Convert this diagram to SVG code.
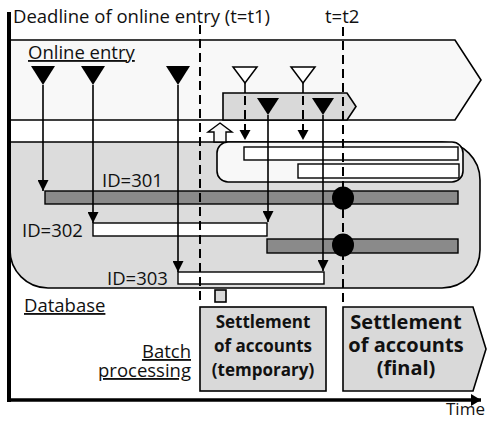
<svg xmlns="http://www.w3.org/2000/svg" width="489" height="421" viewBox="0 0 489 421">
  <defs>
    <marker id="head" viewBox="0 0 10 10" refX="10" refY="5" markerWidth="11" markerHeight="11" markerUnits="userSpaceOnUse" orient="auto">
      <path d="M0,0 L10,5 L0,10 Z" fill="#000"/>
    </marker>
    <marker id="timeHead" viewBox="0 0 10 12" refX="10" refY="6" markerWidth="10" markerHeight="12" markerUnits="userSpaceOnUse" orient="auto">
      <path d="M0,0 L10,6 L0,12 Z" fill="#000"/>
    </marker>
  </defs>
  <style>
    text { font-family: "Open Sans", "Noto Sans", "Liberation Sans", sans-serif; fill: #111; }
    .lbl { font-size: 18.5px; }
    .u { text-decoration: underline; }
    .bold { font-weight: bold; text-anchor: middle; }
    .edge { stroke: #000; stroke-width: 1.6; fill: none; }
    .dash { stroke: #000; stroke-width: 2; stroke-dasharray: 9 5; fill: none; }
    .box { stroke: #000; stroke-width: 1.6; }
    .dark { fill: #8a8a8a; stroke: #000; stroke-width: 1.4; }
    .light { fill: #fff; stroke: #000; stroke-width: 1.4; }
    .tri { fill: #000; }
    .otri { fill: #fff; stroke: #000; stroke-width: 1.5; }
  </style>

  <rect width="489" height="421" fill="#fff"/>

  <!-- online entry lane -->
  <g id="online-entry">
    <path class="box" d="M10,40 H455 L481,80 L455,120 H10" fill="#f8f8f8"/>
    <text class="lbl u" x="28" y="59">Online entry</text>
  </g>

  <!-- entries arriving after the deadline -->
  <g id="late-entry">
    <path class="box" d="M223,93 H347 L356,106.5 L347,120 H223 Z" fill="#d9d9d9"/>
  </g>

  <!-- database -->
  <g id="database">
    <path class="box" d="M10,142 H442 A38,38 0 0 1 480,180 V250 A38,38 0 0 1 442,288 H48 A38,38 0 0 1 10,250 Z" fill="#dcdcdc"/>
    <text class="lbl u" x="24" y="312">Database</text>
  </g>

  <!-- pending (not yet committed) records -->
  <g id="pending">
    <rect class="box" x="217" y="142" width="246" height="40" rx="11" fill="#f8f8f8"/>
    <rect class="light" x="244" y="147" width="214" height="13"/>
    <rect class="light" x="298" y="164" width="161" height="14"/>
  </g>

  <!-- committed records -->
  <g id="id301">
    <rect class="dark" x="45" y="191" width="413" height="13"/>
    <text class="lbl" x="102" y="187">ID=301</text>
  </g>
  <g id="id302">
    <rect class="light" x="93" y="223" width="174" height="13"/>
    <text class="lbl" x="22" y="237">ID=302</text>
  </g>
  <g id="id303">
    <rect class="light" x="178" y="272" width="146" height="12"/>
    <text class="lbl" x="107" y="285">ID=303</text>
  </g>
  <g id="id302-update">
    <rect class="dark" x="267" y="239" width="191" height="14"/>
  </g>

  <!-- batch processing -->
  <g id="batch">
    <rect class="box" x="215" y="290" width="11" height="12" fill="#d9d9d9" stroke-width="1.2"/>
    <text class="lbl u" x="191" y="358" text-anchor="end">Batch</text>
    <text class="lbl u" x="191" y="377" text-anchor="end">processing</text>
  </g>
  <g id="settlement-temporary">
    <rect class="box" x="200" y="307" width="126" height="84" fill="#d9d9d9"/>
    <text class="bold" x="263" y="328" font-size="17">Settlement</text>
    <text class="bold" x="263" y="352" font-size="17">of accounts</text>
    <text class="bold" x="263" y="376" font-size="17">(temporary)</text>
  </g>
  <g id="settlement-final">
    <path class="box" d="M343,307 H473 L486,349 L473,391 H343 Z" fill="#d9d9d9"/>
    <text class="bold" x="406" y="329" font-size="20">Settlement</text>
    <text class="bold" x="406" y="352" font-size="20">of accounts</text>
    <text class="bold" x="406" y="375" font-size="20">(final)</text>
  </g>

  <!-- connectors -->
  <g id="connectors">
    <!-- entry markers -->
    <path class="tri" d="M31,66 H55 L43,85 Z"/>
    <path class="tri" d="M81,66 H105 L93,85 Z"/>
    <path class="tri" d="M166,66 H190 L178,85 Z"/>
    <path class="tri" d="M257,98 H279 L268,115 Z"/>
    <path class="tri" d="M312,98 H334 L323,115 Z"/>
    <path class="otri" d="M233,67 H257 L245,83 Z"/>
    <path class="otri" d="M291,67 H315 L303,83 Z"/>

    <!-- writes into the database -->
    <line class="edge" x1="43" y1="85" x2="43" y2="191" marker-end="url(#head)"/>
    <line class="edge" x1="93" y1="85" x2="93" y2="223" marker-end="url(#head)"/>
    <line class="edge" x1="178" y1="85" x2="178" y2="272" marker-end="url(#head)"/>
    <line class="edge" x1="268" y1="115" x2="268" y2="222" marker-end="url(#head)"/>
    <line class="edge" x1="323" y1="115" x2="323" y2="271" marker-end="url(#head)"/>

    <!-- pending writes -->
    <line class="edge" x1="245" y1="83" x2="245" y2="93"/>
    <line class="edge" x1="303" y1="83" x2="303" y2="93"/>
    <line class="dash" x1="245" y1="96" x2="245" y2="130" stroke-dasharray="7 5"/>
    <line class="dash" x1="303" y1="96" x2="303" y2="130" stroke-dasharray="7 5"/>
    <path class="tri" d="M239.5,130 H250.5 L245,140 Z"/>
    <path class="tri" d="M297.5,130 H308.5 L303,140 Z"/>

    <!-- hand-over to the database -->
    <path d="M220,123 L232,132 H226 V142 H214 V132 H208 Z" fill="#f8f8f8" stroke="#000" stroke-width="1.4"/>

    <!-- time markers -->
    <line class="dash" x1="200" y1="25" x2="200" y2="302"/>
    <line class="dash" x1="343" y1="27" x2="343" y2="305"/>
    <ellipse cx="343" cy="198" rx="11" ry="11.5" fill="#000"/>
    <ellipse cx="343" cy="245" rx="11" ry="11.5" fill="#000"/>

    <!-- axes -->
    <line x1="9" y1="12" x2="9" y2="402" stroke="#000" stroke-width="4"/>
    <line x1="7" y1="400" x2="481" y2="400" stroke="#000" stroke-width="3.5" marker-end="url(#timeHead)"/>
  </g>

  <!-- axis captions -->
  <g id="captions">
    <text x="446" y="415" font-size="17">Time</text>
    <text x="13" y="23" font-size="18.5">Deadline of online entry (t=t1)</text>
    <text x="325" y="23" font-size="18.5">t=t2</text>
  </g>
</svg>
